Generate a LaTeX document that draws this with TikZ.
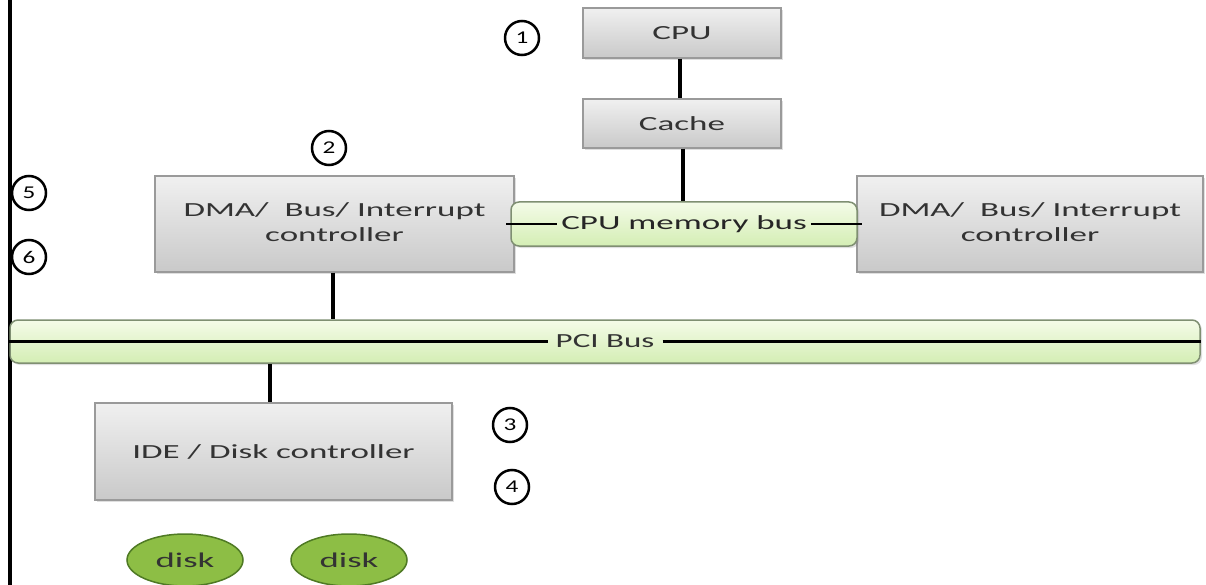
\documentclass[tikz,border=0pt]{standalone}
\usepackage{fontspec}
\usepackage{graphicx}
\setmainfont{Carlito}
\usetikzlibrary{shadows,calc,shapes.geometric}
\definecolor{boxtop}{HTML}{F0F0F0}
\definecolor{boxbot}{HTML}{C9C9C9}
\definecolor{boxedge}{HTML}{9A9A9A}
\definecolor{bustop}{HTML}{F4FBE8}
\definecolor{busbot}{HTML}{D4EEB4}
\definecolor{busedge}{HTML}{7F8F72}
\definecolor{diskfill}{HTML}{8DBE45}
\definecolor{diskedge}{HTML}{4F7A24}
\definecolor{txt}{HTML}{333333}
\newcommand{\wtxt}[1]{\scalebox{1.75}[1]{#1}}
\tikzset{
  graybox/.style={rectangle, draw=boxedge, line width=1.2pt, top color=boxtop, bottom color=boxbot,
    drop shadow={opacity=0.25, shadow xshift=2pt, shadow yshift=-2pt},
    text=txt, font=\fontsize{20}{25}\selectfont, inner sep=0pt},
  busbox/.style={rectangle, rounded corners=8pt, draw=busedge, line width=1.5pt, top color=bustop, bottom color=busbot,
    drop shadow={opacity=0.25, shadow xshift=2pt, shadow yshift=-2pt}, inner sep=0pt},
  buslbl/.style={font=\fontsize{20}{24}\selectfont, text=txt, inner sep=4pt},
  diskbox/.style={ellipse, draw=diskedge, line width=1.5pt, fill=diskfill, inner sep=0pt,
    font=\fontsize{21}{24}\selectfont, text=txt},
  numc/.style={circle, draw=black, line width=2.5pt, minimum size=34pt, inner sep=0pt, fill=white,
    font=\fontsize{18}{20}\selectfont},
  conn/.style={draw=black, line width=3.5pt},
}
\begin{document}
\begin{tikzpicture}[x=1pt,y=1pt]
\useasboundingbox (0,0) rectangle (1206,-585);
\fill[white] (0,0) rectangle (1206,-585);
% left vertical line
\coordinate (vtop) at (10,0);
\coordinate (vbot) at (10,-585);
\draw[conn] (vtop) -- (vbot);
% boxes
\node[graybox, minimum width=198pt, minimum height=50pt] (cpu) at (682,-33) {\wtxt{CPU}};
\node[graybox, minimum width=198pt, minimum height=49pt] (cache) at (682,-123.5) {\wtxt{Cache}};
\node[graybox, minimum width=359pt, minimum height=96pt] (dmal) at (334.5,-224)
  {\wtxt{\begin{tabular}{@{}c@{}}DMA/\ \ Bus/ Interrupt\\[-1pt]controller\end{tabular}}};
\node[graybox, minimum width=346pt, minimum height=96pt] (dmar) at (1030,-224)
  {\wtxt{\begin{tabular}{@{}c@{}}DMA/\ \ Bus/ Interrupt\\[-1pt]controller\end{tabular}}};
\node[busbox, minimum width=346pt, minimum height=44pt] (membus) at (684,-224) {};
\node[buslbl, text=black!85] (memlbl) at (684,-224) {\wtxt{CPU memory bus}};
\node[busbox, minimum width=1190pt, minimum height=43pt] (pci) at (605,-341.5) {};
\node[buslbl, inner sep=8pt] (pcilbl) at (605,-341.5) {\scalebox{1.65}[1]{PCI Bus}};
\node[graybox, minimum width=357pt, minimum height=97pt] (ide) at (273.5,-451.5) {\wtxt{IDE / Disk controller}};
\node[diskbox, minimum width=116pt, minimum height=52pt] (disk1) at (185,-560) {\scalebox{1.75}[1]{disk}};
\node[diskbox, minimum width=116pt, minimum height=52pt] (disk2) at (349,-560) {\scalebox{1.75}[1]{disk}};
% numbered circles
\node[numc] (n1) at (522,-38) {\scalebox{1.4}[1]{1}};
\node[numc] (n2) at (329,-148) {\scalebox{1.4}[1]{2}};
\node[numc] (n3) at (510,-425) {\scalebox{1.4}[1]{3}};
\node[numc] (n4) at (512,-487) {\scalebox{1.4}[1]{4}};
\node[numc] (n5) at (29,-193) {\scalebox{1.4}[1]{5}};
\node[numc] (n6) at (29,-257) {\scalebox{1.4}[1]{6}};
% bus internal lines
\draw[conn, line width=2.8pt] ([xshift=-4pt]membus.west) -- (memlbl.west);
\draw[conn, line width=2.8pt] (memlbl.east) -- ([xshift=4pt]membus.east);
\draw[conn, line width=2.8pt] (pci.west) -- (pcilbl.west);
\draw[conn, line width=2.8pt] (pcilbl.east) -- (pci.east);
% connectors
\draw[conn] ([xshift=-2pt]cpu.south) -- ([xshift=-2pt]cache.north);
\draw[conn] ([xshift=1pt]cache.south) -- ([xshift=1pt]cache.south |- membus.north);
\draw[conn] ([xshift=-1.5pt]dmal.south) -- ([xshift=-1.5pt]dmal.south |- pci.north);
\draw[conn] ([xshift=-3.5pt]ide.north |- pci.south) -- ([xshift=-3.5pt]ide.north);
\end{tikzpicture}
\end{document}
